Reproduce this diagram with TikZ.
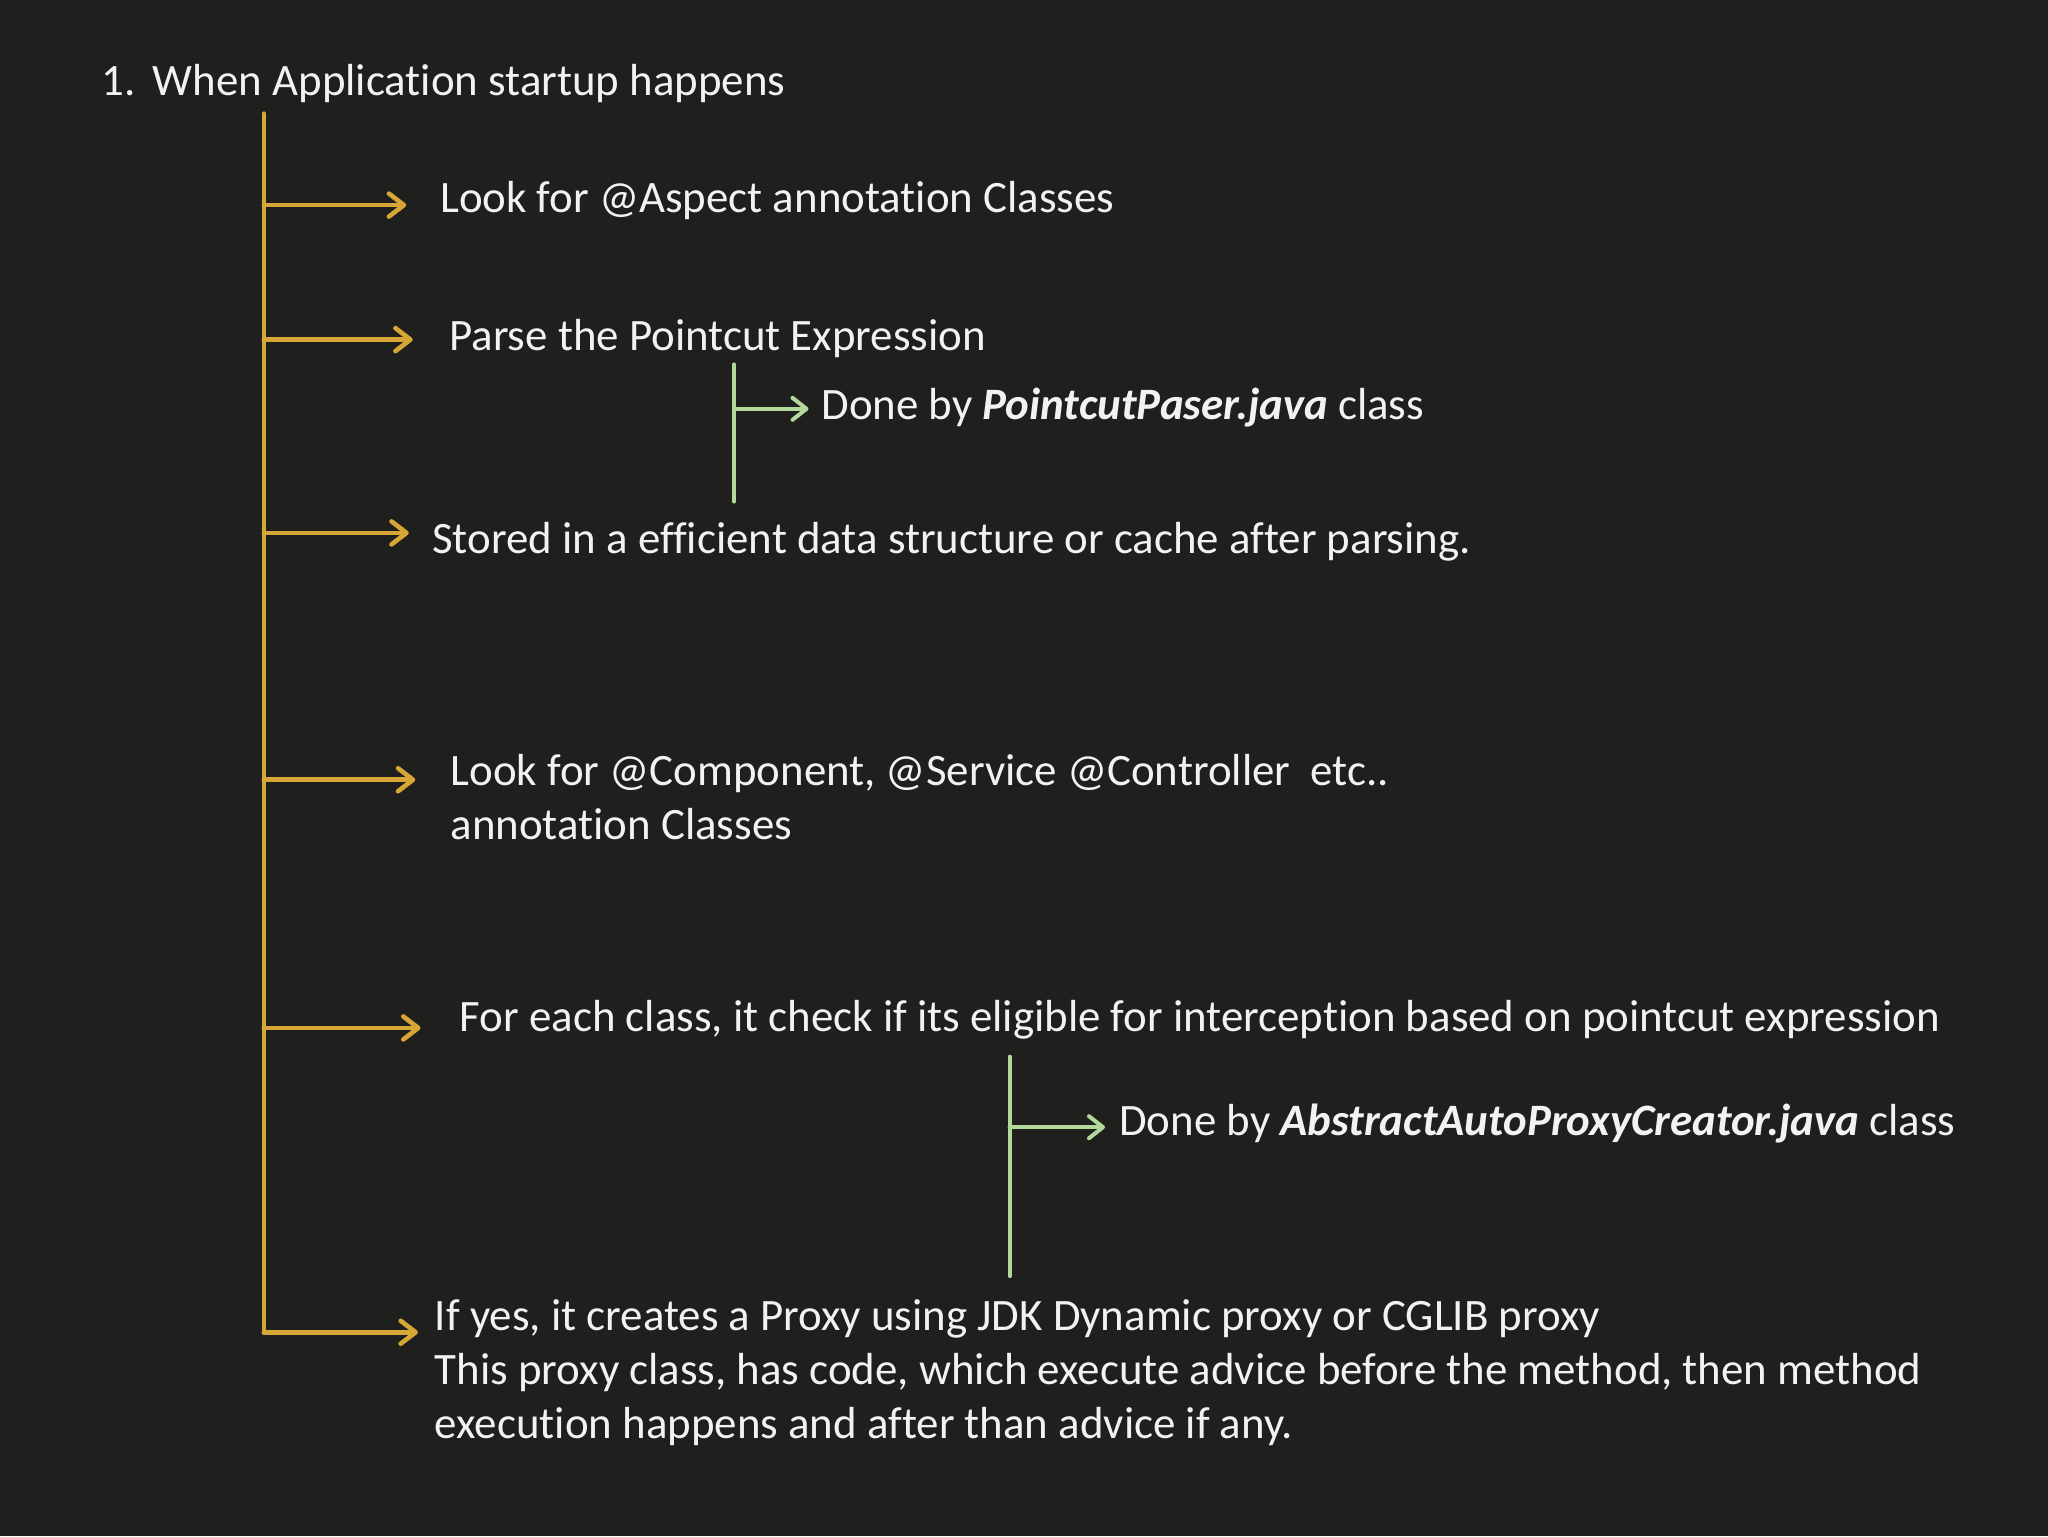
\documentclass[tikz,border=0pt]{standalone}
\usepackage{fontspec}
\setmainfont{Carlito}[Ligatures=NoCommon]
\usetikzlibrary{arrows.meta}
\definecolor{bg}{HTML}{1F1F1E}
\definecolor{gold}{HTML}{D6A636}
\definecolor{leaf}{HTML}{B3D89C}
\definecolor{ink}{HTML}{F2F2F2}
\begin{document}
\begin{tikzpicture}[x=0.65306pt,y=-0.65306pt,
  txt/.style={anchor=base west,inner sep=0pt,outer sep=0pt,text=ink,font=\fontsize{22.45}{27}\selectfont,align=left},
  goldline/.style={draw=gold,line width=2.3pt,line cap=round},
  leafline/.style={draw=leaf,line width=2pt,line cap=round},
  goldarrow/.style={goldline,-{Straight Barb[length=7.5pt,width=11.5pt,round]}},
  leafarrow/.style={leafline,-{Straight Barb[length=7pt,width=11pt,round]}}]
\fill[bg] (0,0) rectangle (1568,1176);
\useasboundingbox (0,0) rectangle (1568,1176);
% title
\node[txt] (num) at (78,73) {1.};
\node[txt] (title) at (117,73) {When Application startup happens};
% trunk
\coordinate (ttop) at (202,87);
\coordinate (tbot) at (202,1020);
\draw[goldline] (ttop) -- (tbot);
% branch points and tips
\coordinate (b1) at (202,157); \coordinate (t1) at (311,157);
\coordinate (b2) at (202,260); \coordinate (t2) at (316,260);
\coordinate (b3) at (202,408); \coordinate (t3) at (313,408);
\coordinate (b4) at (202,597); \coordinate (t4) at (318,597);
\coordinate (b5) at (202,787); \coordinate (t5) at (322,787);
\coordinate (b6) at (202,1020); \coordinate (t6) at (320,1020);
\foreach \i in {1,...,6}{\draw[goldarrow] (b\i) -- (t\i);}
% texts (multi-line nodes: base = last line)
\node[txt] (s1) at (337,162.8) {Look for @Aspect annotation Classes};
\node[txt] (s2) at (344,268) {Parse the Pointcut Expression};
\node[txt] (s3) at (331,424) {Stored in a efficient data structure or cache after parsing.};
\node[txt] (s4) at (345,643) {Look for @Component, @Service @Controller\ \ etc..\\annotation Classes};
\node[txt] (s5) at (352,790) {For each class, it check if its eligible for interception based on pointcut expression};
\node[txt] (s6) at (333,1101) {If yes, it creates a Proxy using JDK Dynamic proxy or CGLIB proxy\\This proxy class, has code, which execute advice before the method, then method\\execution happens and after than advice if any.};
% green sub-branches
\coordinate (g1top) at (562,279); \coordinate (g1bot) at (562,384);
\coordinate (g1b) at (562,313); \coordinate (g1t) at (619,313);
\draw[leafline] (g1top) -- (g1bot);
\draw[leafarrow] (g1b) -- (g1t);
\node[txt] (d1) at (629,321) {Done by \textbf{\textit{PointcutPaser.java}} class};
\coordinate (g2top) at (773,809); \coordinate (g2bot) at (773,977);
\coordinate (g2b) at (773,863); \coordinate (g2t) at (846,863);
\draw[leafline] (g2top) -- (g2bot);
\draw[leafarrow] (g2b) -- (g2t);
\node[txt] (d2) at (857,869) {Done by \textbf{\textit{AbstractAutoProxyCreator.java}} class};
\end{tikzpicture}
\end{document}
